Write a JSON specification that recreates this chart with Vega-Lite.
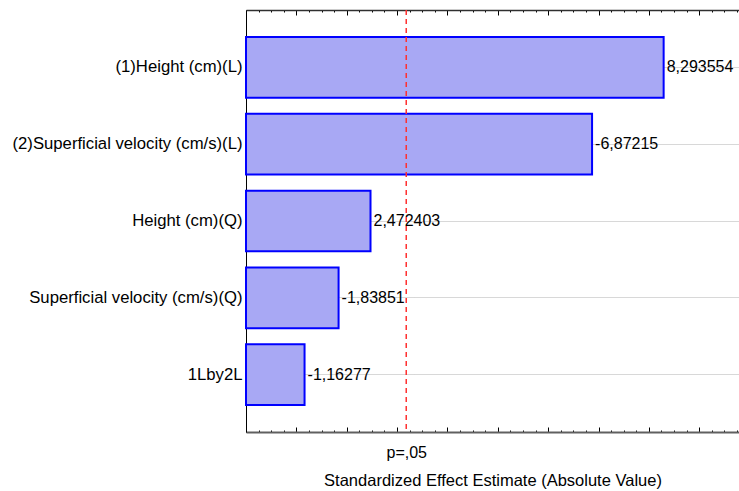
{
  "$schema": "https://vega.github.io/schema/vega-lite/v6.json",
  "width": 493,
  "height": 422,
  "autosize": {"type": "none"},
  "padding": {"left": 246, "top": 10, "right": 0, "bottom": 59},
  "background": "white",
  "config": {
    "view": {"stroke": null},
    "font": "Liberation Sans",
    "axis": {"labelFont": "Liberation Sans", "titleFont": "Liberation Sans", "labelColor": "black", "titleColor": "black"}
  },
  "data": {
    "values": [
      {"effect_name": "(1)Height (cm)(L)", "effect": 8.293554, "label": "8,293554"},
      {"effect_name": "(2)Superficial velocity (cm/s)(L)", "effect": 6.87215, "label": "-6,87215"},
      {"effect_name": "Height (cm)(Q)", "effect": 2.472403, "label": "2,472403"},
      {"effect_name": "Superficial velocity (cm/s)(Q)", "effect": 1.83851, "label": "-1,83851"},
      {"effect_name": "1Lby2L", "effect": 1.16277, "label": "-1,16277"}
    ]
  },
  "layer": [
    {
      "mark": {"type": "bar", "fill": "#a8a8f4", "stroke": "#0000ff", "strokeWidth": 2},
      "encoding": {
        "y": {
          "field": "effect_name", "type": "nominal", "sort": null,
          "scale": {"paddingInner": 0.21, "paddingOuter": 0.35},
          "axis": {
            "title": null, "labelFontSize": 16.7, "labelPadding": 8, "labelLimit": 400,
            "tickSize": -4, "tickColor": "black", "domainColor": "black", "domainWidth": 1,
            "grid": true, "gridColor": "#b0b0b0", "gridDash": [1, 1], "gridWidth": 1
          }
        },
        "x": {
          "field": "effect", "type": "quantitative",
          "scale": {"domain": [0, 9.79], "nice": false},
          "axis": {
            "orient": "bottom",
            "values": [0, 0.25, 0.5, 0.75, 1, 1.25, 1.5, 1.75, 2, 2.25, 2.5, 2.75, 3, 3.182, 3.25, 3.5, 3.75, 4, 4.25, 4.5, 4.75, 5, 5.25, 5.5, 5.75, 6, 6.25, 6.5, 6.75, 7, 7.25, 7.5, 7.75, 8, 8.25, 8.5, 8.75, 9, 9.25, 9.5, 9.75],
            "labelExpr": "datum.value === 3.182 ? 'p=,05' : ''",
            "labelOverlap": false, "labelFontSize": 16, "labelPadding": 14, "labelFlush": false,
            "grid": false,
            "tickSize": {"condition": {"test": "datum.value % 1 === 0", "value": -5}, "value": -2},
            "tickOpacity": {"condition": {"test": "datum.value === 3.182", "value": 0}, "value": 1},
            "tickColor": "black",
            "domainColor": "#606060", "domainWidth": 2,
            "title": "Standardized Effect Estimate (Absolute Value)",
            "titleFontSize": 16.5, "titleFontWeight": "normal", "titlePadding": 12
          }
        }
      }
    },
    {
      "mark": {"type": "text", "align": "left", "baseline": "middle", "dx": 3, "fontSize": 16, "color": "black"},
      "encoding": {
        "y": {"field": "effect_name", "type": "nominal", "sort": null},
        "x": {
          "field": "effect", "type": "quantitative",
          "axis": {
            "orient": "top",
            "values": [0, 0.25, 0.5, 0.75, 1, 1.25, 1.5, 1.75, 2, 2.25, 2.5, 2.75, 3, 3.25, 3.5, 3.75, 4, 4.25, 4.5, 4.75, 5, 5.25, 5.5, 5.75, 6, 6.25, 6.5, 6.75, 7, 7.25, 7.5, 7.75, 8, 8.25, 8.5, 8.75, 9, 9.25, 9.5, 9.75],
            "labels": false, "grid": false, "title": null,
            "tickSize": {"condition": {"test": "datum.value % 1 === 0", "value": -5}, "value": -2},
            "tickColor": "black",
            "domainColor": "#303030", "domainWidth": 1.5
          }
        },
        "text": {"field": "label"}
      }
    },
    {
      "data": {"values": [{"t_crit": 3.182}]},
      "mark": {"type": "rule", "color": "#ff3030", "strokeWidth": 1.5, "strokeDash": [5, 4]},
      "encoding": {
        "x": {"field": "t_crit", "type": "quantitative", "axis": null}
      }
    }
  ],
  "resolve": {"axis": {"x": "independent"}}
}
